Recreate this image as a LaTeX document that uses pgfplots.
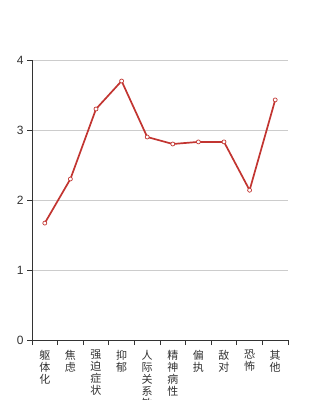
\documentclass[border=0pt]{standalone}
\usepackage{pgfplots}
\pgfplotsset{compat=1.18}
\usepackage{fontspec}
\setmainfont{Liberation Sans}
\newfontfamily\cjk{Noto Sans CJK SC}
\definecolor{linered}{HTML}{C23531}
\definecolor{axisgray}{HTML}{333333}
\definecolor{gridgray}{HTML}{CCCCCC}
\begin{document}
\begin{tikzpicture}[x=1pt,y=1pt]
\useasboundingbox (0,0) rectangle (320,400);
\begin{axis}[at={(32pt,60pt)}, anchor=south west, scale only axis,
  width=256pt, height=280pt,
  xmin=-0.5, xmax=9.5, ymin=0, ymax=4,
  axis x line*=bottom, axis y line*=left,
  axis line style={axisgray, line width=0.8pt, -},
  ytick={0,1,2,3,4},
  xtick={0,...,9},
  xticklabels={{躯\\体\\化},{焦\\虑},{强\\迫\\症\\状},{抑\\郁},{人\\际\\关\\系\\敏\\感},{精\\神\\病\\性},{偏\\执},{敌\\对},{恐\\怖},{其\\他}},
  major x tick style={draw=none},
  minor xtick={-0.5,0.5,...,9.5},
  minor x tick style={axisgray, line width=0.8pt},
  y tick style={axisgray, line width=0.8pt},
  tick align=outside,
  major tick length=5pt, minor tick length=5pt,
  ymajorgrids, grid style={gridgray, line width=0.8pt},
  /pgf/number format/assume math mode=true,
  yticklabel style={font=\fontsize{12}{12}\selectfont, text=axisgray},
  xticklabel style={font=\cjk\fontsize{11}{12}\selectfont, align=center, anchor=north, text=axisgray, inner sep=1pt, yshift=-4pt},
]
\addplot[linered, line width=1.7pt, mark=*, mark size=2pt, mark options={fill=white, draw=linered, line width=0.7pt}]
  coordinates {(0,1.67) (1,2.30) (2,3.30) (3,3.70) (4,2.90) (5,2.80) (6,2.83) (7,2.83) (8,2.14) (9,3.43)};
\end{axis}
\end{tikzpicture}
\end{document}
